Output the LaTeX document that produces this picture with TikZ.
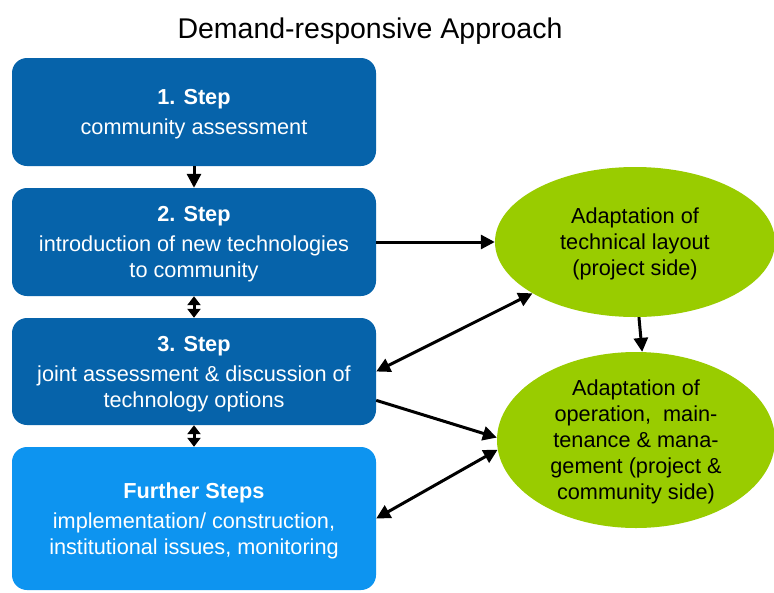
\documentclass[tikz,border=0pt]{standalone}
\usepackage{fontspec}
\setmainfont{Liberation Sans}
\usetikzlibrary{positioning, arrows.meta, shapes.geometric}
\definecolor{stepblue}{RGB}{6,99,170}
\definecolor{furtherblue}{RGB}{13,148,240}
\definecolor{adaptgreen}{RGB}{153,204,0}
\tikzset{
  stepbox/.style={rectangle, rounded corners=15pt, minimum width=364pt, minimum height=108pt, text=white, align=center, inner sep=0pt, text depth=0pt, font=\fontsize{21.7}{26}\selectfont},
  adapt/.style={ellipse, fill=adaptgreen, align=center, inner sep=0pt, text depth=0pt, font=\fontsize{21.7}{26}\selectfont},
  link/.style={line width=3pt, -{Triangle[length=14pt,width=14pt]}},
  twolink/.style={line width=3pt, {Triangle[length=14pt,width=14pt]}-{Triangle[length=14pt,width=14pt]}},
  shortlink/.style={line width=3pt, {Triangle[length=9pt,width=13pt]}-{Triangle[length=9pt,width=13pt]}},
}

\begin{document}
\begin{tikzpicture}[x=1pt, y=-1pt]
    \path[fill=white, use as bounding box] (0, 0) rectangle (774, 592);

    \node[font=\fontsize{28.5}{34}\selectfont] (title) at (370, 31) {Demand-responsive Approach};

    \node[stepbox, fill=stepblue] (step1) at (194, 112) {\textbf{1. Step}\\[4pt] community assessment};
    \node[stepbox, fill=stepblue] (step2) at (194, 242) {\textbf{2. Step}\\[4pt] introduction of new technologies\\ to community};
    \node[stepbox, fill=stepblue, minimum height=107pt] (step3) at (194, 371.5) {\textbf{3. Step}\\[4pt] joint assessment \& discussion of\\ technology options};
    \node[stepbox, fill=furtherblue, minimum height=143pt] (further) at (194, 518.5) {\textbf{Further Steps}\\[4pt] implementation/ construction,\\ institutional issues, monitoring};

    \node[adapt, minimum width=280pt, minimum height=150pt] (layout) at (635, 242) {Adaptation of\\ technical layout\\ (project side)};
    \node[adapt, minimum width=278pt, minimum height=176pt] (operation) at (636, 440) {Adaptation of\\ operation,\ \ main-\\ tenance \& mana-\\ gement (project \&\\ community side)};

    \draw[link] (step1.south) -- (step2.north);
    \draw[shortlink] (step2.south) -- (step3.north);
    \draw[shortlink] (step3.south) -- (further.north);
    \draw[link] (step2.east) -- (layout.west);
    \draw[twolink] (layout) -- (step3.east);
    \draw[link] (layout.273) -- (operation.86);
    \draw[link] (step3.351) -- (operation.179);
    \draw[twolink] (operation.184) -- (further.east);
\end{tikzpicture}
\end{document}
